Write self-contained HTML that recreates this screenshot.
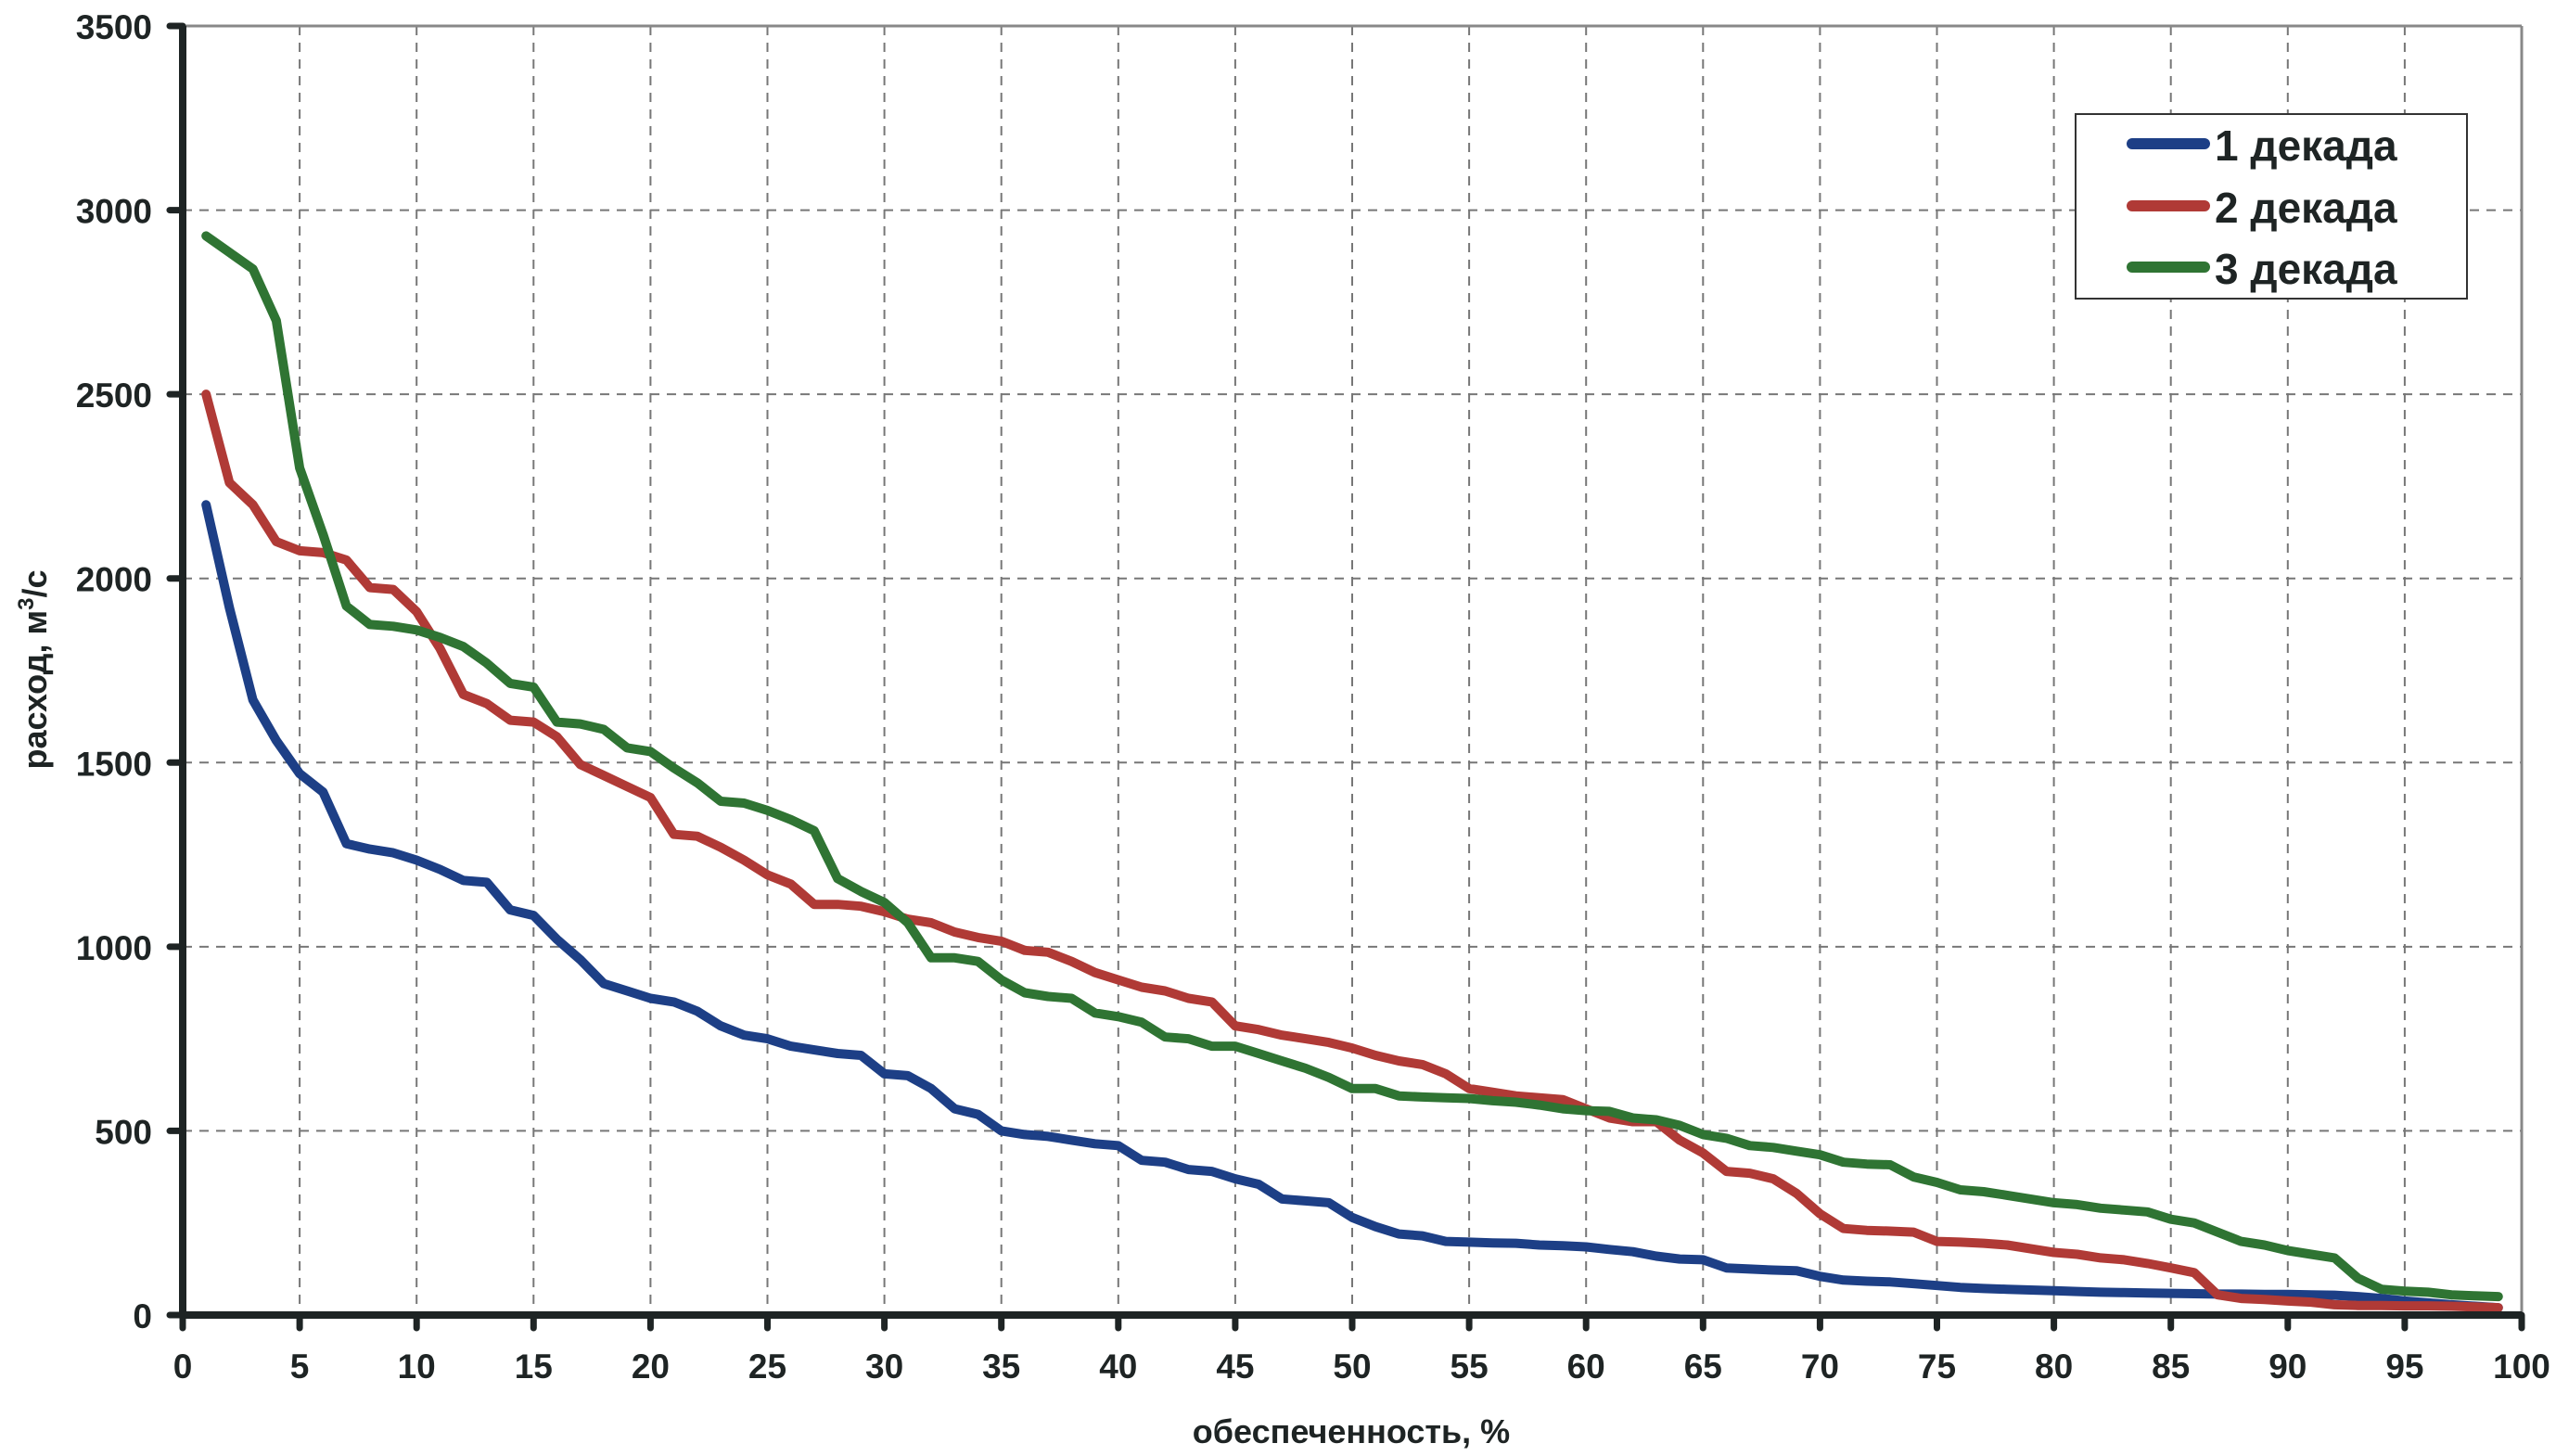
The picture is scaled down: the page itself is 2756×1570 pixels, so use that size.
<!DOCTYPE html>
<html><head><meta charset="utf-8"><style>
html,body{margin:0;padding:0;background:#fff;}
svg{display:block;}
text{font-family:"Liberation Sans",Arial,sans-serif;font-weight:bold;fill:#1e2424;}
</style></head><body>
<svg id="chart" width="2756" height="1570" viewBox="0 0 2756 1570" xmlns="http://www.w3.org/2000/svg">
<g id="grid"></g>
<g id="series"></g>
<g id="axes"></g>
<g>
<rect x="2238" y="123" width="422" height="199" fill="#fff" stroke="#333" stroke-width="2"/>
<line x1="2299" y1="155" x2="2377" y2="155" stroke="#1d3f86" stroke-width="12" stroke-linecap="round"/>
<text x="2388" y="173" font-size="46">1 декада</text>
<line x1="2299" y1="222" x2="2377" y2="222" stroke="#b03a36" stroke-width="12" stroke-linecap="round"/>
<text x="2388" y="240" font-size="46">2 декада</text>
<line x1="2299" y1="288" x2="2377" y2="288" stroke="#2f7433" stroke-width="12" stroke-linecap="round"/>
<text x="2388" y="306" font-size="46">3 декада</text>
</g>
<text x="1457" y="1556" font-size="36" text-anchor="middle">обеспеченность, %</text>
<text transform="translate(50,722) rotate(-90)" font-size="36" text-anchor="middle">расход, м<tspan font-size="24" dy="-14">3</tspan><tspan dy="14">/с</tspan></text>
</svg>
<script>
const xTicks=[0,5,10,15,20,25,30,35,40,45,50,55,60,65,70,75,80,85,90,95,100];
const yTicks=[0,500,1000,1500,2000,2500,3000,3500];
const seriesNames=["1 декада","2 декада","3 декада"];
const decade1=[2200,1920,1670,1560,1470,1420,1280,1265,1255,1235,1210,1180,1175,1100,1085,1020,965,900,880,860,850,825,785,760,750,730,720,710,705,655,650,615,560,545,500,490,485,475,465,460,420,415,395,390,370,355,315,310,305,265,240,220,215,200,198,196,195,190,188,185,178,172,160,152,150,128,125,122,120,105,95,92,90,85,80,75,72,70,68,66,64,62,61,60,59,58,57,57,56,56,55,54,50,45,38,33,28,24,20];
const decade2=[2500,2260,2200,2100,2075,2070,2050,1975,1970,1910,1810,1685,1660,1615,1610,1570,1495,1465,1435,1405,1305,1300,1270,1235,1195,1170,1115,1115,1110,1095,1075,1065,1040,1025,1015,990,985,960,930,910,890,880,860,850,785,775,760,750,740,725,705,690,680,655,615,605,595,590,585,560,535,525,525,475,440,390,385,370,330,275,235,230,228,225,200,198,195,190,180,170,165,155,150,140,128,115,55,45,42,38,35,28,26,26,25,25,24,22,20];
const decade3=[2930,2885,2840,2700,2300,2120,1925,1875,1870,1860,1840,1815,1770,1715,1705,1610,1605,1590,1540,1530,1485,1445,1395,1390,1370,1345,1315,1185,1150,1120,1065,970,970,960,910,875,865,860,820,810,795,755,750,730,730,710,690,670,645,615,615,595,592,590,588,582,578,570,560,555,553,535,530,515,490,480,460,455,445,435,415,410,408,375,360,340,335,325,315,305,300,290,285,280,260,250,225,200,190,175,165,155,100,70,65,62,55,52,50];
const NS="http://www.w3.org/2000/svg";
const X0=197,X1=2719,Y0=1418,Y1=28;
const sx=v=>X0+(v-0)/100*(X1-X0);
const sy=v=>Y0-(v/3500)*(Y0-Y1);
function mk(tag,attrs,parent){const e=document.createElementNS(NS,tag);for(const k in attrs)e.setAttribute(k,attrs[k]);parent.appendChild(e);return e;}
const grid=document.getElementById('grid'),axes=document.getElementById('axes'),ser=document.getElementById('series');
xTicks.forEach(t=>{
  if(t>0&&t<100){const l=mk('line',{x1:sx(t),y1:Y1,x2:sx(t),y2:Y0,stroke:'#777','stroke-width':2,'stroke-dasharray':'10 8'},grid);
  
  }
  const tk=mk('line',{x1:sx(t),y1:Y0,x2:sx(t),y2:Y0+14,stroke:'#1e2424','stroke-width':7,'stroke-linecap':'round'},axes);
  
  
  const tx=mk('text',{x:sx(t),y:Y0+68,'font-size':37,'text-anchor':'middle'},axes);tx.textContent=t;
  
  
});
yTicks.forEach(t=>{
  if(t>0&&t<3500){const l=mk('line',{x1:X0,y1:sy(t),x2:X1,y2:sy(t),stroke:'#777','stroke-width':2,'stroke-dasharray':'10 8'},grid);
  
  }
  const tk=mk('line',{x1:X0-14,y1:sy(t),x2:X0,y2:sy(t),stroke:'#1e2424','stroke-width':7,'stroke-linecap':'round'},axes);
  
  
  const tx=mk('text',{x:X0-33,y:sy(t)+14,'font-size':37,'text-anchor':'end'},axes);tx.textContent=t;
  
  
});
const bt=mk('line',{x1:X0,y1:Y1,x2:X1,y2:Y1,stroke:'#888','stroke-width':3},grid);


const br=mk('line',{x1:X1,y1:Y1,x2:X1,y2:Y0,stroke:'#888','stroke-width':3},grid);


const colors=['#1d3f86','#b03a36','#2f7433'];
const names=['series-decade-1','series-decade-2','series-decade-3'];
[decade1,decade2,decade3].forEach((arr,i)=>{
  const pts=arr.map((v,j)=>sx(j+1).toFixed(1)+','+sy(v).toFixed(1)).join(' ');
  const p=mk('polyline',{points:pts,fill:'none',stroke:colors[i],'stroke-width':10,'stroke-linejoin':'round','stroke-linecap':'round'},ser);
  
  
});
const ax=mk('line',{x1:X0,y1:Y1,x2:X0,y2:Y0,stroke:'#1e2424','stroke-width':8},axes);


const ay=mk('line',{x1:X0,y1:Y0,x2:X1,y2:Y0,stroke:'#1e2424','stroke-width':8},axes);


</script>
</body></html>
